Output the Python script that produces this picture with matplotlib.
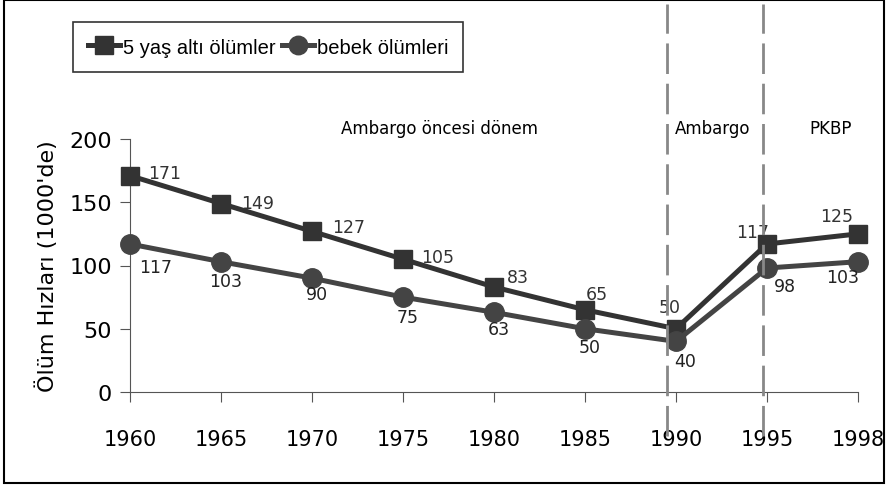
import numpy as np
import matplotlib
matplotlib.use("Agg")
import matplotlib.pyplot as plt
from matplotlib.patches import Rectangle

# data
years = ["1960", "1965", "1970", "1975", "1980", "1985", "1990", "1995", "1998"]
under5 = [171, 149, 127, 105, 83, 65, 50, 117, 125]
infant = [117, 103, 90, 75, 63, 50, 40, 98, 103]
periods = ["Ambargo öncesi dönem", "Ambargo", "PKBP"]

# label offsets (pixels) for the data labels
off_under5 = [(35, -3), (37, -1), (37, -4), (35, -2), (24, -10), (12, -16), (-6, -22), (-14, -12), (-21, -18)]
off_infant = [(26, 23), (5, 19), (5, 16), (5, 20), (5, 17), (5, 18), (9, 20), (18, 18), (-15, 15)]

plt.rcParams["font.family"] = ["DejaVu Sans"]

fig = plt.figure(figsize=(8.86, 4.89), dpi=100)
ax = fig.add_axes([130 / 886, 1 - 393 / 489, 728 / 886, 253 / 489])
x = np.arange(len(years))

ax.plot(x, under5, color="#333333", lw=3.6, marker="s", markersize=13,
        label="5 yaş altı ölümler", clip_on=False, zorder=3)
ax.plot(x, infant, color="#444444", lw=3.6, marker="o", markersize=14,
        label="bebek ölümleri", clip_on=False, zorder=3)

for i in range(len(years)):
    ax.annotate(str(under5[i]), (x[i], under5[i]),
                xytext=(off_under5[i][0] * 0.72, -off_under5[i][1] * 0.72),
                textcoords="offset points", ha="center", va="center",
                fontsize=12.5, color="#333333")
    ax.annotate(str(infant[i]), (x[i], infant[i]),
                xytext=(off_infant[i][0] * 0.72, -off_infant[i][1] * 0.72),
                textcoords="offset points", ha="center", va="center",
                fontsize=12.5, color="#222222")

ax.set_xlim(0, 8)
ax.set_ylim(0, 200)
ax.set_xticks(x)
ax.set_xticklabels(years, fontsize=15)
ax.set_yticks([0, 50, 100, 150, 200])
ax.tick_params(axis="x", length=7, pad=20, color="#555555")
ax.tick_params(axis="y", length=7, pad=6, labelsize=16, color="#555555")
for s in ["top", "right"]:
    ax.spines[s].set_visible(False)
for s in ["left", "bottom"]:
    ax.spines[s].set_color("#555555")
ax.set_ylabel("Ölüm Hızları (1000'de)", fontsize=16, labelpad=8)

# period separators
for xv in [5.9, 6.96]:
    ax.axvline(xv, ymin=-0.174, ymax=1.534, color="#888888", lw=2,
               dashes=(11, 3.5), clip_on=False, zorder=5)

ax.text(3.4, 209, periods[0], ha="center", va="center", fontsize=12)
ax.text(6.4, 209, periods[1], ha="center", va="center", fontsize=12)
ax.text(7.7, 209, periods[2], ha="center", va="center", fontsize=12)

leg = fig.legend(loc="center", bbox_to_anchor=(268 / 886, 1 - 48 / 489), ncol=2,
                 prop={"family": "Liberation Sans", "size": 14.5}, frameon=True,
                 fancybox=False, edgecolor="black", handlelength=1.6,
                 columnspacing=0.3, handletextpad=0.15, borderpad=0.75,
                 borderaxespad=0, markerscale=0.95)
leg.get_frame().set_linewidth(1.2)

fig.add_artist(Rectangle((0.005, 0.01), 0.993, 0.987, transform=fig.transFigure,
                         fill=False, ec="black", lw=1.5))

fig.savefig("out.png", dpi=100)
